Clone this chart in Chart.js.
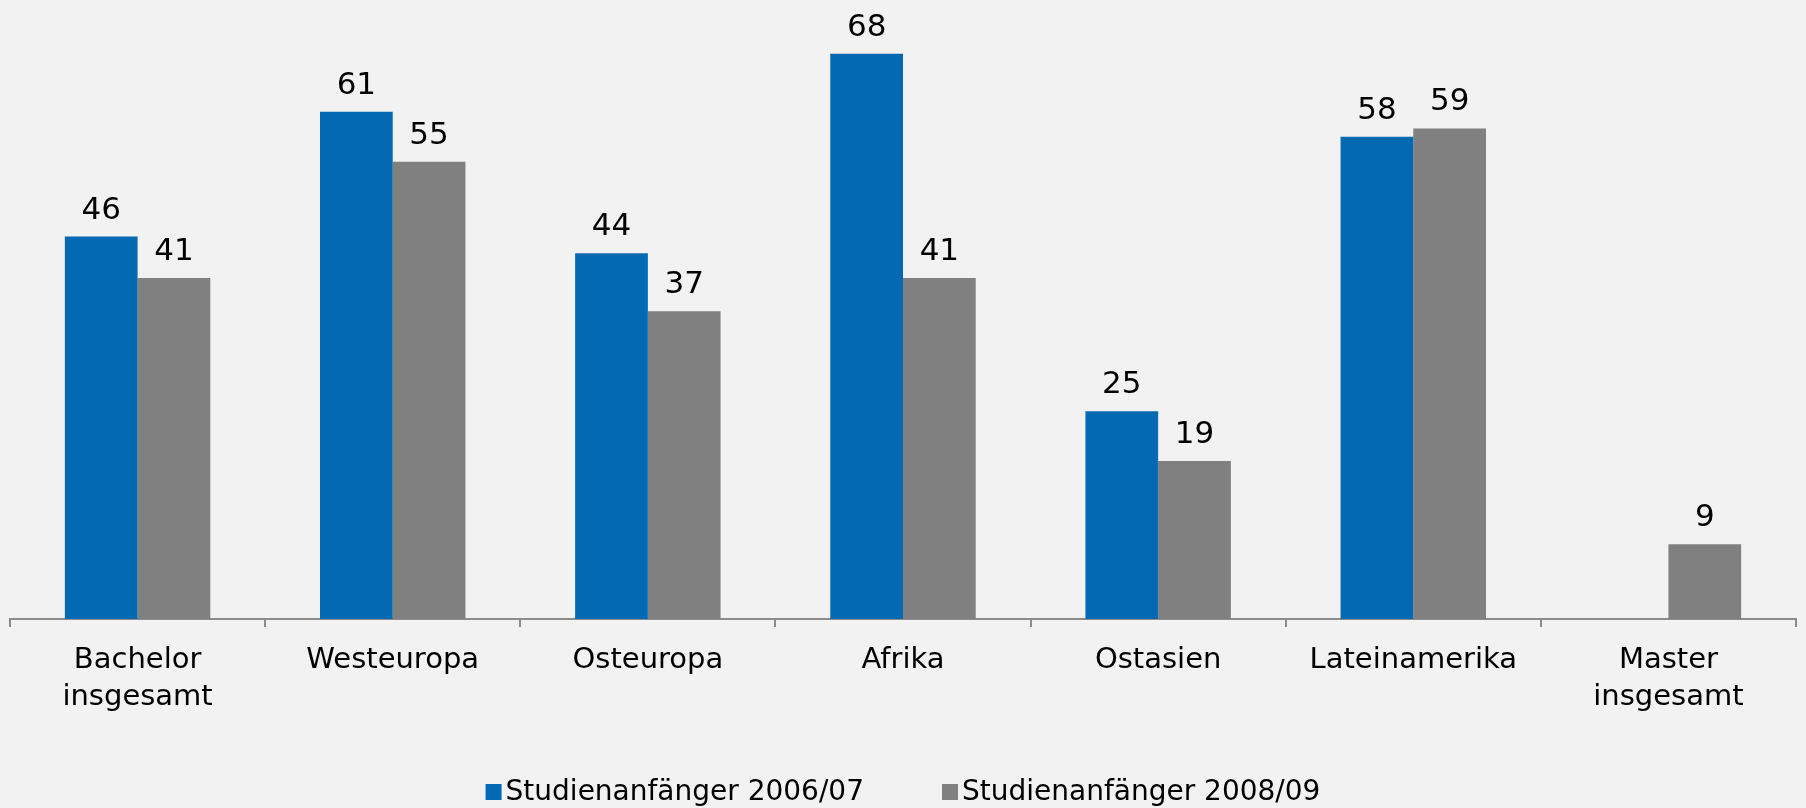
<!DOCTYPE html>
<html>
<head>
<meta charset="utf-8">
<script src="https://cdn.jsdelivr.net/npm/chart.js@4/dist/chart.umd.min.js"></script>
<style>
  html, body { margin: 0; padding: 0; background: #F2F2F2; }
  #wrap { width: 1806px; height: 808px; }
</style>
</head>
<body>
<div id="wrap"><canvas id="c" width="1806" height="808"></canvas></div>
<script>
const categories = [
  ['Bachelor', 'insgesamt'],
  'Westeuropa',
  'Osteuropa',
  'Afrika',
  'Ostasien',
  'Lateinamerika',
  ['Master', 'insgesamt']
];
const series2006 = [46, 61, 44, 68, 25, 58, null];
const series2008 = [41, 55, 37, 41, 19, 59, 9];
const seriesNames = ['Studienanfänger 2006/07', 'Studienanfänger 2008/09'];
const seriesColors = ['#0369B2', '#808080'];

const FONT = '"DejaVu Sans", Verdana, sans-serif';

const valueLabels = {
  id: 'valueLabels',
  afterDatasetsDraw(chart) {
    const ctx = chart.ctx;
    ctx.save();
    ctx.font = '31px ' + FONT;
    ctx.fillStyle = '#000';
    ctx.textAlign = 'center';
    ctx.textBaseline = 'alphabetic';
    chart.data.datasets.forEach((ds, i) => {
      const meta = chart.getDatasetMeta(i);
      meta.data.forEach((el, j) => {
        const v = ds.data[j];
        if (v === null || v === undefined) return;
        ctx.fillText(String(v), el.x, el.y - 18);
      });
    });
    ctx.restore();
  }
};

// Legend drawn with small gap between swatch and text (as in the reference)
const customLegend = {
  id: 'customLegend',
  afterDraw(chart) {
    const ctx = chart.ctx;
    ctx.save();
    ctx.font = '28px ' + FONT;
    ctx.textBaseline = 'middle';
    ctx.textAlign = 'left';
    const box = 16, gapText = 4, gapItems = 78;
    const items = chart.data.datasets.map(d => ({ text: d.label, color: d.backgroundColor }));
    const widths = items.map(it => box + gapText + ctx.measureText(it.text).width);
    const total = widths.reduce((a, b) => a + b, 0) + gapItems * (items.length - 1);
    let x = (chart.width - total) / 2;
    const y = 792;
    items.forEach((it, i) => {
      ctx.fillStyle = it.color;
      ctx.fillRect(x, y - box / 2, box, box);
      ctx.fillStyle = '#000';
      ctx.fillText(it.text, x + box + gapText, y + 1);
      x += widths[i] + gapItems;
    });
    ctx.restore();
  }
};

const bgPlugin = {
  id: 'bg',
  beforeDraw(chart) {
    const ctx = chart.ctx;
    ctx.save();
    ctx.fillStyle = '#F2F2F2';
    ctx.fillRect(0, 0, chart.width, chart.height);
    ctx.restore();
  }
};

new Chart(document.getElementById('c'), {
  type: 'bar',
  data: {
    labels: categories,
    datasets: [
      { label: seriesNames[0], data: series2006, backgroundColor: seriesColors[0] },
      { label: seriesNames[1], data: series2008, backgroundColor: seriesColors[1] }
    ]
  },
  options: {
    responsive: false,
    animation: false,
    devicePixelRatio: 1,
    layout: { padding: { top: 37, left: 10, right: 10, bottom: 69 } },
    datasets: { bar: { categoryPercentage: 0.57, barPercentage: 1.0 } },
    scales: {
      x: {
        offset: true,
        grid: { offset: true, drawOnChartArea: false, drawTicks: true, tickLength: 8, color: '#8C8C8C', lineWidth: 2 },
        border: { display: true, color: '#8C8C8C', width: 2 },
        ticks: { color: '#000', font: { family: FONT, size: 29, lineHeight: 1.28 }, padding: 15, maxRotation: 0, autoSkip: false },
        afterFit(scale) { scale.height = 120; }
      },
      y: {
        display: false,
        min: 0,
        max: 70
      }
    },
    plugins: {
      legend: { display: false },
      tooltip: { enabled: false }
    }
  },
  plugins: [bgPlugin, valueLabels, customLegend]
});
</script>
</body>
</html>
